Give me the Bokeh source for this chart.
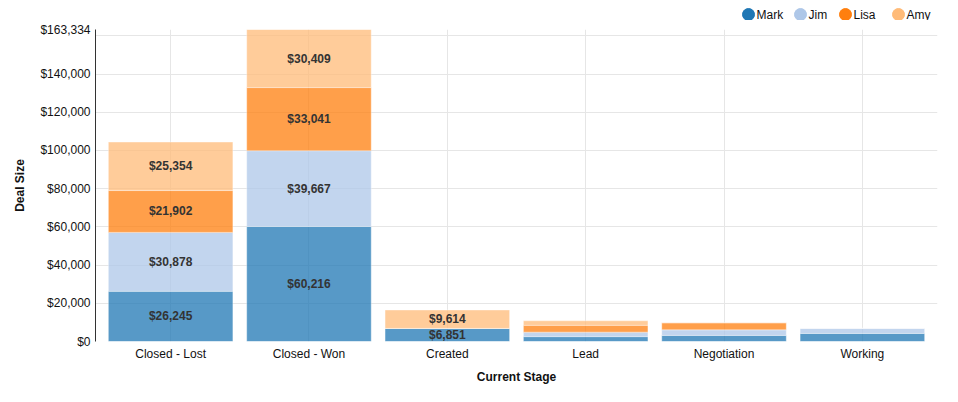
import numpy as np
from bokeh.plotting import figure
from bokeh.layouts import column
from bokeh.models import Range1d, FixedTicker, NumeralTickFormatter, ColumnDataSource
from bokeh.core.properties import value
from bokeh.embed import file_html
from bokeh.resources import INLINE

stages = ["Closed - Lost", "Closed - Won", "Created", "Lead", "Negotiation", "Working"]
mark = [26245, 60216, 6851, 2540, 3200, 4230]
jim = [30878, 39667, 0, 2360, 2900, 2690]
lisa = [21902, 33041, 0, 3550, 3700, 0]
amy = [25354, 30409, 9614, 2390, 0, 0]
people = ["Mark", "Jim", "Lisa", "Amy"]
colors = ["#1f77b4", "#aec7e8", "#ff7f0e", "#ffbb78"]
y_max = 163334
y_ticks = [0, 20000, 40000, 60000, 80000, 100000, 120000, 140000, 163334]
grid_ticks = [0, 20000, 40000, 60000, 80000, 100000, 120000, 140000, 160000]
label_min = 5000

# legend layout (pixel positions of the legend entries in the header strip)
legend_x = [748, 800, 845, 898]

FONT = "Liberation Sans"
W = 942
LEFT, RIGHT = 95, 5

xs = [i + 0.5 for i in range(len(stages))]
series = {"Mark": mark, "Jim": jim, "Lisa": lisa, "Amy": amy}
x_start, x_end = -0.043, len(stages) + 0.043

# ---- legend strip (its frame is aligned with the chart frame) ----
lg = figure(width=W, height=20, x_range=Range1d(LEFT, W - RIGHT), y_range=Range1d(0, 20),
            x_axis_type=None, y_axis_type=None, output_backend="svg",
            toolbar_location=None, min_border=0,
            min_border_left=LEFT, min_border_right=RIGHT)
lg.outline_line_color = None
lg.grid.visible = False
lsrc = ColumnDataSource(dict(x=legend_x, tx=[v + 8 for v in legend_x],
                             y=[6] * len(people), name=people, color=colors))
lg.scatter(x="x", y="y", size=12, marker="circle", fill_color="color",
           line_color="color", source=lsrc)
lg.text(x="tx", y="y", text="name", text_font=value(FONT), text_font_size="12px",
        text_color="#111111", text_align="left", text_baseline="middle", source=lsrc)

# ---- main chart ----
p = figure(width=W, height=366,
           x_range=Range1d(x_start, x_end),
           y_range=Range1d(0, y_max),
           output_backend="svg", toolbar_location=None,
           min_border_left=LEFT, min_border_right=RIGHT,
           min_border_top=9, min_border_bottom=45)
p.outline_line_color = None
p.background_fill_color = "white"
p.border_fill_color = "white"

source = ColumnDataSource(dict(x=xs, **series))
p.vbar_stack(people, x="x", width=0.9, fill_color=colors, fill_alpha=0.75,
             line_color="white", line_alpha=0.35, line_width=1, source=source)

# segment labels
lx, ly, lt = [], [], []
for i, x in enumerate(xs):
    base = 0
    for name in people:
        v = series[name][i]
        if v >= label_min:
            lx.append(x)
            ly.append(base + v / 2)
            lt.append("${:,}".format(v))
        base += v
p.text(x=lx, y=ly, text=lt, text_font=value(FONT), text_font_style="bold",
       text_font_size="12px", text_color="#333333", text_align="center",
       text_baseline="middle")

# y axis
p.yaxis.ticker = FixedTicker(ticks=y_ticks)
p.yaxis.formatter = NumeralTickFormatter(format="$0,0")
p.yaxis.major_tick_line_color = None
p.yaxis.minor_tick_line_color = None
p.yaxis.major_tick_out = 0
p.yaxis.major_tick_in = 0
p.yaxis.minor_tick_out = 0
p.yaxis.major_label_standoff = 5
p.yaxis.axis_line_color = "#333333"
p.yaxis.major_label_text_font = FONT
p.yaxis.major_label_text_font_size = "12px"
p.yaxis.major_label_text_color = "#111111"
p.yaxis.axis_label = "Deal Size"
p.yaxis.axis_label_text_font = FONT
p.yaxis.axis_label_text_font_size = "12px"
p.yaxis.axis_label_text_font_style = "bold"
p.yaxis.axis_label_text_color = "#111111"
p.yaxis.axis_label_standoff = 10
p.ygrid.ticker = FixedTicker(ticks=grid_ticks)
p.ygrid.grid_line_color = "#e6e6e6"

# x axis
p.xaxis.ticker = FixedTicker(ticks=xs)
p.xaxis.major_label_overrides = {x: s for x, s in zip(xs, stages)}
p.xaxis.axis_line_color = None
p.xaxis.major_tick_line_color = None
p.xaxis.minor_tick_line_color = None
p.xaxis.major_tick_out = 0
p.xaxis.major_tick_in = 0
p.xaxis.minor_tick_out = 0
p.xaxis.major_label_standoff = 5
p.xaxis.major_label_text_font = FONT
p.xaxis.major_label_text_font_size = "12px"
p.xaxis.major_label_text_color = "#111111"
p.xaxis.axis_label = "Current Stage"
p.xaxis.axis_label_text_font = FONT
p.xaxis.axis_label_text_font_size = "12px"
p.xaxis.axis_label_text_font_style = "bold"
p.xaxis.axis_label_text_color = "#111111"
p.xaxis.axis_label_standoff = 6
p.xgrid.ticker = FixedTicker(ticks=xs)
p.xgrid.grid_line_color = "#e6e6e6"

layout = column(lg, p, spacing=0)
open("out.html", "w").write(file_html(layout, INLINE))
